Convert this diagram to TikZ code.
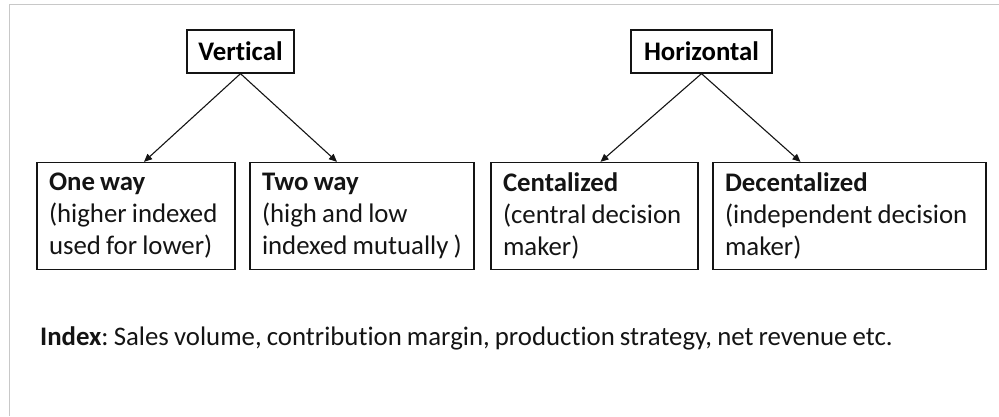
\documentclass[tikz,border=0pt]{standalone}
\usepackage{fontspec}
\setmainfont{Carlito}[Ligatures=NoCommon, WordSpace=0.85]
\usetikzlibrary{arrows.meta}
\definecolor{framegray}{RGB}{200,200,200}
\definecolor{ink}{RGB}{20,20,20}
\frenchspacing
\begin{document}
\begin{tikzpicture}[x=1pt,y=-1pt,
  font=\fontsize{26.8}{32}\selectfont,
  head/.style={draw=ink, line width=1.3pt, inner sep=0pt, minimum height=43pt, font=\fontsize{26.8}{32}\selectfont\bfseries},
  leaf/.style={draw=ink, line width=1.3pt, inner xsep=12pt, inner ysep=0pt, minimum height=107pt, align=left, text=ink,
    execute at begin node={\spaceskip=0pt\xspaceskip=0pt\relax}},
  link/.style={draw=ink, line width=1.1pt, -{Triangle[length=8pt,width=7pt]}}
]
\useasboundingbox (0,0) rectangle (999,416);
% frame lines along the top and left edges
\draw[framegray, line width=1.5pt] (9.5,416) -- (9.5,4.5) -- (999,4.5);

% category headers
\node[head, minimum width=107pt] (vert) at (240.5,51.5) {Vertical};
\node[head, minimum width=141pt] (horz) at (701.5,51.5) {Horizontal};

% leaf boxes
\node[leaf, text width=174pt] (one) at (136,216) {\mbox{\textbf{One way}}\\\mbox{(higher indexed}\\\mbox{used for lower)}};
\node[leaf, text width=200pt] (two) at (362,216) {\mbox{\textbf{Two way}}\\\mbox{(high and low}\\\mbox{indexed mutually )}};
\node[leaf, text width=183pt] (cent) at (594.5,216) {\mbox{\textbf{Centalized}}\\\mbox{(central decision}\\\mbox{maker)}};
\node[leaf, text width=249pt] (dec) at (849.5,216) {\mbox{\textbf{Decentalized}}\\\mbox{(independent decision}\\\mbox{maker)}};

% connectors
\draw[link] (vert.south) -- ([xshift=8pt]one.north);
\draw[link] (vert.south) -- ([xshift=-25pt]two.north);
\draw[link] (horz.south) -- ([xshift=6pt]cent.north);
\draw[link] (horz.south) -- ([xshift=-49pt]dec.north);

% footnote
\node[anchor=base west, inner sep=0pt, text=ink] (idx) at (40,345) {\textbf{Index}: Sales volume, contribution margin, production strategy, net revenue etc.};
\end{tikzpicture}
\end{document}
